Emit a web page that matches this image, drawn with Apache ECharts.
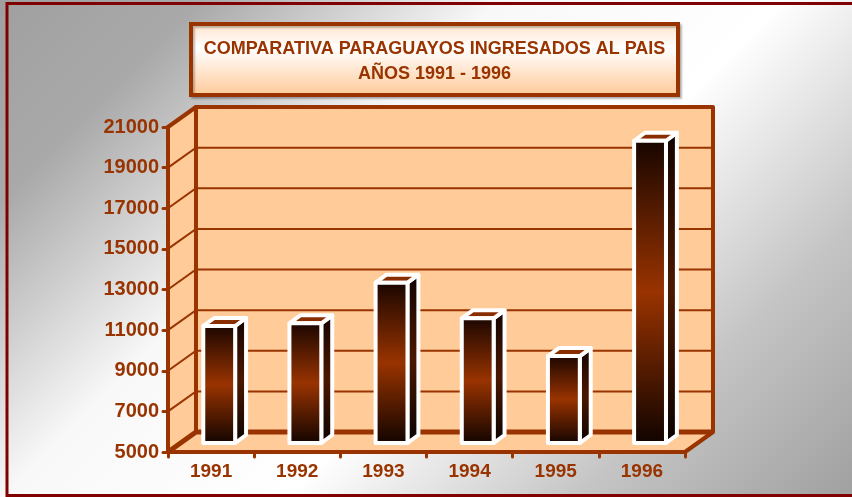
<!DOCTYPE html>
<html>
<head>
<meta charset="utf-8">
<script src="https://cdn.jsdelivr.net/npm/echarts@6/dist/echarts.min.js"></script>
<style>
  html, body { margin: 0; padding: 0; }
  #chart { width: 852px; height: 497px; }
</style>
</head>
<body>
<div id="chart"></div>
<script>
// ---- data ----
const categories = ['1991', '1992', '1993', '1994', '1995', '1996'];
const values = [10760, 10890, 12890, 11140, 9280, 19880];
const yTicks = [5000, 7000, 9000, 11000, 13000, 15000, 17000, 19000, 21000];
const titleLines = ['COMPARATIVA PARAGUAYOS INGRESADOS AL PAIS', 'AÑOS 1991 - 1996'];

// ---- layout / style constants ----
const Y_MIN = 5000, Y_MAX = 21000, Y_STEP = 2000;
const DX = 28, DY = -20;             // depth vector front -> back wall
const BAR_FRACTION = 0.37;           // front face width / band width
const BAR_SHIFT_X = 0.29, BAR_SHIFT_Y = 0.45; // position of bar front face in depth
const SIDE_X = 0.39, SIDE_Y = 0.40;  // bar depth
const DARK = '#993300';
const WALL = '#FFCC99';
const FONT = '"Liberation Sans", Arial, sans-serif';

const chart = echarts.init(document.getElementById('chart'), null, { renderer: 'canvas' });

function renderFrame(params, api) {
  const cs = params.coordSys;
  const L = cs.x, R = cs.x + cs.width, T = cs.y, B = cs.y + cs.height;
  const children = [];
  children.push({ type: 'rect', shape: { x: L + DX, y: T + DY, width: cs.width, height: cs.height },
    style: { fill: WALL } });
  children.push({ type: 'polygon', shape: { points: [[L, T], [L + DX, T + DY], [L + DX, B + DY], [L, B]] },
    style: { fill: WALL } });
  children.push({ type: 'polygon', shape: { points: [[L, B], [L + DX, B + DY], [R + DX, B + DY], [R, B]] },
    style: { fill: WALL } });
  yTicks.forEach(function (v) {
    if (v === Y_MIN || v === Y_MAX) return;
    const y = api.coord([0, v])[1];
    children.push({ type: 'polyline', shape: { points: [[L, y], [L + DX, y + DY], [R + DX, y + DY]] },
      style: { stroke: DARK, lineWidth: 2, fill: null } });
  });
  const edge = { stroke: DARK, lineWidth: 4, fill: null, lineJoin: 'round', lineCap: 'round' };
  children.push({ type: 'polyline', shape: { points: [[L, T], [L + DX, T + DY], [R + DX, T + DY], [R + DX, B + DY], [R, B]] }, style: edge });
  children.push({ type: 'line', shape: { x1: L + DX, y1: T + DY, x2: L + DX, y2: B + DY }, style: edge });
  children.push({ type: 'polyline', shape: { points: [[L, B], [L + DX, B + DY], [R + DX, B + DY]] },
    style: { stroke: DARK, lineWidth: 5, fill: null, lineJoin: 'round' } });
  return { type: 'group', children: children };
}

function renderBar(params, api) {
  const idx = api.value(0), v = api.value(1);
  const top = api.coord([idx, v]);
  const base = api.coord([idx, Y_MIN]);
  const w = api.size([1, 0])[0] * BAR_FRACTION;
  const x0 = top[0] + DX * BAR_SHIFT_X - w / 2;
  const yT = top[1] + DY * BAR_SHIFT_Y;
  const yB = base[1] + DY * BAR_SHIFT_Y;
  const sx = DX * SIDE_X, sy = DY * SIDE_Y;
  const stroke = { stroke: '#ffffff', lineWidth: 4, lineJoin: 'round' };
  const frontFill = new echarts.graphic.LinearGradient(0, 0, 0, 1, [
    { offset: 0, color: '#170500' }, { offset: 0.5, color: '#993300' }, { offset: 1, color: '#0f0300' }]);
  const sideFill = new echarts.graphic.LinearGradient(0, 0, 0, 1, [
    { offset: 0, color: '#120300' }, { offset: 0.5, color: '#4a1800' }, { offset: 1, color: '#0a0200' }]);
  return {
    type: 'group',
    children: [
      { type: 'polygon', shape: { points: [[x0 + w, yT], [x0 + w + sx, yT + sy], [x0 + w + sx, yB + sy], [x0 + w, yB]] },
        style: Object.assign({ fill: sideFill }, stroke) },
      { type: 'polygon', shape: { points: [[x0, yT], [x0 + sx, yT + sy], [x0 + w + sx, yT + sy], [x0 + w, yT]] },
        style: Object.assign({ fill: '#8a2e00' }, stroke) },
      { type: 'rect', shape: { x: x0, y: yT, width: w, height: yB - yT },
        style: Object.assign({ fill: frontFill }, stroke) }
    ]
  };
}

const option = {
  animation: false,
  graphic: [
    { type: 'rect', z: -100, silent: true, shape: { x: 0, y: 0, width: 852, height: 497 },
      style: { fill: new echarts.graphic.LinearGradient(0, 0, 674.5, 674.5, [
        { offset: 0, color: '#a0a0a0' }, { offset: 0.15, color: '#a9a9a9' },
        { offset: 0.37, color: '#f8f8f8' }, { offset: 0.58, color: '#ffffff' },
        { offset: 0.8, color: '#c4c4c4' }, { offset: 1, color: '#a0a0a0' }], true) } },
    { type: 'rect', z: 100, silent: true, shape: { x: 7, y: 3.5, width: 900, height: 492 },
      style: { fill: null, stroke: '#800000', lineWidth: 3 } },
    { type: 'rect', z: 100, shape: { x: 191, y: 24, width: 487, height: 71 },
      style: { fill: new echarts.graphic.LinearGradient(0, 0, 0, 1, [
        { offset: 0, color: '#FFE2C8' }, { offset: 0.35, color: '#FFFFFF' }, { offset: 1, color: '#FFC896' }]),
        stroke: DARK, lineWidth: 4, shadowColor: 'rgba(0,0,0,0.25)', shadowOffsetX: 2, shadowOffsetY: 2, shadowBlur: 2 } },
    { type: 'text', z: 101, x: 434.5, y: 49, style: { text: titleLines[0], fill: DARK, font: 'bold 18px ' + FONT,
      align: 'center', verticalAlign: 'middle' } },
    { type: 'text', z: 101, x: 434.5, y: 74, style: { text: titleLines[1], fill: DARK, font: 'bold 18px ' + FONT,
      align: 'center', verticalAlign: 'middle' } }
  ],
  grid: { left: 168, top: 127, width: 517, height: 325, containLabel: false },
  xAxis: {
    type: 'category', data: categories, z: 5,
    axisLine: { lineStyle: { color: DARK, width: 4, cap: 'round' } },
    axisTick: { show: true, length: 5, lineStyle: { color: DARK, width: 3, cap: 'round' } },
    axisLabel: { color: DARK, fontWeight: 'bold', fontSize: 19, fontFamily: FONT, margin: 10 },
    splitLine: { show: false }
  },
  yAxis: {
    type: 'value', min: Y_MIN, max: Y_MAX, interval: Y_STEP, z: 5,
    axisLine: { show: true, lineStyle: { color: DARK, width: 4, cap: 'round' } },
    axisTick: { show: true, length: 5, lineStyle: { color: DARK, width: 3, cap: 'round' } },
    axisLabel: { color: DARK, fontWeight: 'bold', fontSize: 20, fontFamily: FONT, margin: 9,
      formatter: function (v) { return String(v); } },
    splitLine: { show: false }
  },
  series: [
    { type: 'custom', name: 'frame', z: 1, silent: true, renderItem: renderFrame, data: [[0, Y_MIN]] },
    { type: 'custom', name: 'Paraguayos ingresados', z: 3, renderItem: renderBar,
      data: values.map(function (v, i) { return [i, v]; }) }
  ]
};
chart.setOption(option);
</script>
</body>
</html>
